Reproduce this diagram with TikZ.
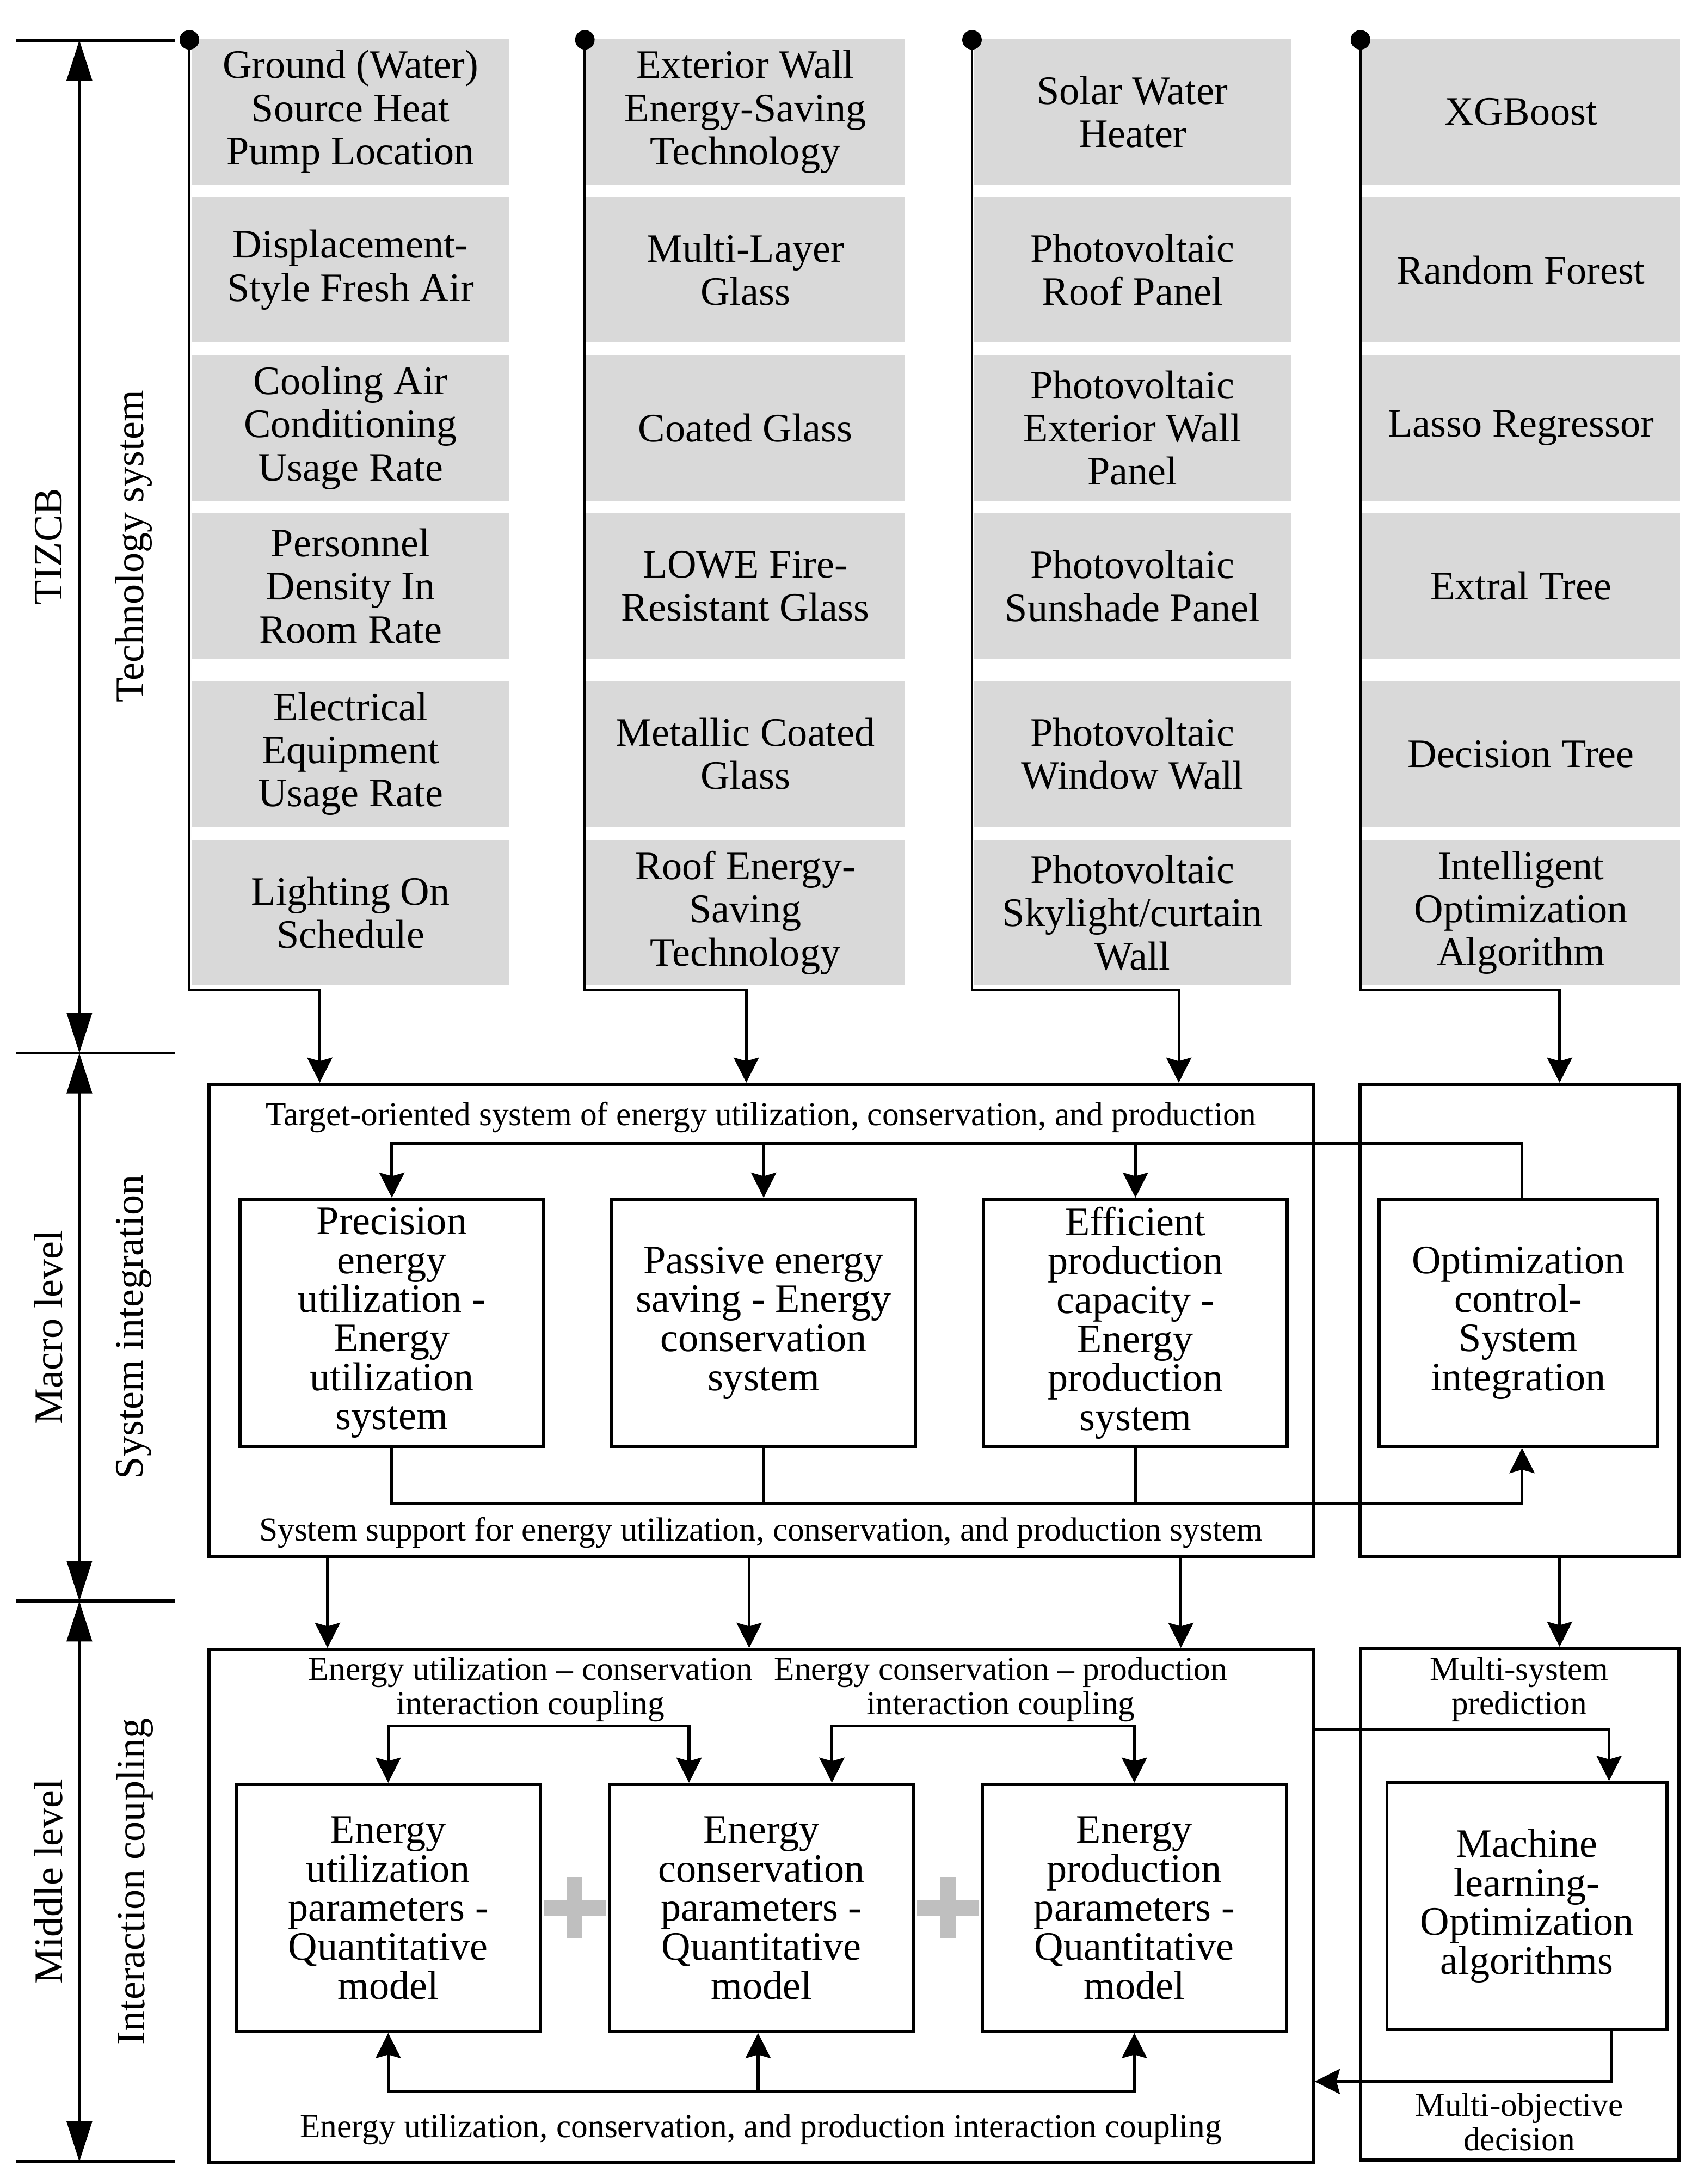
\documentclass[tikz,border=0pt]{standalone}
\usepackage{fontspec}
\setmainfont{Liberation Serif}
\usepackage{tikz}
\usetikzlibrary{calc}
\usetikzlibrary{positioning}
\usetikzlibrary{arrows.meta}
\definecolor{cellgray}{RGB}{217,217,217}
\definecolor{plusgray}{RGB}{191,191,191}

\begin{document}
\begin{tikzpicture}[x=1pt, y=-1pt,
    cell/.style={rectangle, fill=cellgray, minimum width=228.5pt, minimum height=104.5pt, inner sep=0pt, outer sep=0pt, align=center, font=\fontsize{29}{31}\selectfont},
    sysbox/.style={rectangle, draw=black, line width=2.3pt, minimum width=218pt, minimum height=177.5pt, inner sep=0pt, outer sep=0pt, align=center, font=\fontsize{29}{28}\selectfont},
    frame/.style={rectangle, draw=black, line width=2.4pt, inner sep=0pt, outer sep=0pt, anchor=north west},
    note/.style={align=center, inner sep=0pt, font=\fontsize{24}{24.5}\selectfont},
    side/.style={rotate=90, inner sep=0pt, font=\fontsize{29}{31}\selectfont},
    dot/.style={circle, fill=black, inner sep=0pt, minimum size=14pt},
    colline/.style={line width=1.9pt, -{Stealth[length=18pt, width=18pt, inset=2.5pt]}},
    arr/.style={line width=2.1pt, -{Stealth[length=18pt, width=18pt, inset=2.5pt]}},
    dblarr/.style={line width=2.1pt, {Stealth[length=18pt, width=18pt, inset=2.5pt]}-{Stealth[length=18pt, width=18pt, inset=2.5pt]}},
    conn/.style={line width=2.1pt},
    dim/.style={line width=2.2pt, {Triangle[length=29pt, width=18pt]}-{Triangle[length=29pt, width=18pt]}},
    tick/.style={line width=2.2pt}]
    \useasboundingbox (0,0) rectangle (1219,1568);

    \node [cell, anchor=north west] (eq1) at (137.5,28) {Ground (Water)\\Source Heat\\Pump Location};
    \node [cell, below=9pt of eq1] (eq2) {Displacement-\\Style Fresh Air};
    \node [cell, below=9pt of eq2] (eq3) {Cooling Air\\Conditioning\\Usage Rate};
    \node [cell, below=9pt of eq3] (eq4) {Personnel\\Density In\\Room Rate};
    \node [cell, below=16pt of eq4] (eq5) {Electrical\\Equipment\\Usage Rate};
    \node [cell, below=9.5pt of eq5] (eq6) {Lighting On\\Schedule};

    \node [cell, anchor=north west] (env1) at (421,28) {Exterior Wall\\Energy-Saving\\Technology};
    \node [cell, below=9pt of env1] (env2) {Multi-Layer\\Glass};
    \node [cell, below=9pt of env2] (env3) {Coated Glass};
    \node [cell, below=9pt of env3] (env4) {LOWE Fire-\\Resistant Glass};
    \node [cell, below=16pt of env4] (env5) {Metallic Coated\\Glass};
    \node [cell, below=9.5pt of env5] (env6) {Roof Energy-\\Saving\\Technology};

    \node [cell, anchor=north west] (pv1) at (699,28) {Solar Water\\Heater};
    \node [cell, below=9pt of pv1] (pv2) {Photovoltaic\\Roof Panel};
    \node [cell, below=9pt of pv2] (pv3) {Photovoltaic\\Exterior Wall\\Panel};
    \node [cell, below=9pt of pv3] (pv4) {Photovoltaic\\Sunshade Panel};
    \node [cell, below=16pt of pv4] (pv5) {Photovoltaic\\Window Wall};
    \node [cell, below=9.5pt of pv5] (pv6) {Photovoltaic\\Skylight/curtain\\Wall};

    \node [cell, anchor=north west] (alg1) at (978,28) {XGBoost};
    \node [cell, below=9pt of alg1] (alg2) {Random Forest};
    \node [cell, below=9pt of alg2] (alg3) {Lasso Regressor};
    \node [cell, below=9pt of alg3] (alg4) {Extral Tree};
    \node [cell, below=16pt of alg4] (alg5) {Decision Tree};
    \node [cell, below=9.5pt of alg5] (alg6) {Intelligent\\Optimization\\Algorithm};

    \node [dot] (eqdot) at (136,28.6) {};
    \node [dot] (envdot) at (420,28.6) {};
    \node [dot] (pvdot) at (698,28.6) {};
    \node [dot] (algdot) at (977,28.6) {};

    \node [frame, minimum width=793pt, minimum height=339pt] (tsys) at (150,778.5) {};
    \node [frame, minimum width=229pt, minimum height=339pt] (rsys) at (976.5,778.5) {};
    \node [frame, minimum width=793pt, minimum height=368pt] (csys) at (150,1184.3) {};
    \node [frame, minimum width=228.5pt, minimum height=367.5pt] (rcpl) at (977,1183.5) {};

    \node [sysbox, anchor=north west] (util) at (172.4,861) {Precision\\energy\\utilization -\\Energy\\utilization\\system};
    \node [sysbox, right=49pt of util] (cons) {Passive energy\\saving - Energy\\conservation\\system};
    \node [sysbox, right=49pt of cons] (prod) {Efficient\\production\\capacity -\\Energy\\production\\system};
    \node [sysbox, anchor=north west, minimum width=200pt] (opt) at (990.4,861) {Optimization\\control-\\System\\integration};

    \node [sysbox, anchor=north west, minimum width=218.4pt] (uparam) at (169.6,1281) {Energy\\utilization\\parameters -\\Quantitative\\model};
    \node [sysbox, minimum width=218.4pt, right=49.6pt of uparam] (cparam) {Energy\\conservation\\parameters -\\Quantitative\\model};
    \node [sysbox, minimum width=218.4pt, right=49.4pt of cparam] (pparam) {Energy\\production\\parameters -\\Quantitative\\model};
    \node [sysbox, anchor=north west, minimum width=201pt, minimum height=177.3pt] (ml) at (996,1279.7) {Machine\\learning-\\Optimization\\algorithms};

    \node [note] (goal) at (546.5,802) {Target-oriented system of energy utilization, conservation, and production};
    \node [note] (support) at (546.5,1100.5) {System support for energy utilization, conservation, and production system};
    \node [note] (ucpl) at (381,1212.8) {Energy utilization – conservation\\interaction coupling};
    \node [note] (pcpl) at (718.7,1212.8) {Energy conservation – production\\interaction coupling};
    \node [note] (allcpl) at (546.4,1528.8) {Energy utilization, conservation, and production interaction coupling};
    \node [note] (predict) at (1091,1212.8) {Multi-system\\prediction};
    \node [note] (decide) at (1091,1523.4) {Multi-objective\\decision};

    \node [side] (lvtop) at (35,392.4) {TIZCB};
    \node [side] (techsys) at (96,392.4) {Technology system};
    \node [side] (lvmacro) at (35,952.8) {Macro level};
    \node [side] (sysint) at (96,952.8) {System integration};
    \node [side] (lvmid) at (35,1350.8) {Middle level};
    \node [side] (interact) at (97,1350.8) {Interaction coupling};

    \coordinate (lv0) at (57,28.8);
    \coordinate (lv1) at (57,756);
    \coordinate (lv2) at (57,1149.5);
    \coordinate (lv3) at (57,1552);
    \draw [tick] ([xshift=-45.5pt]lv0) -- ([xshift=68.5pt]lv0);
    \draw [tick] ([xshift=-45.5pt]lv1) -- ([xshift=68.5pt]lv1);
    \draw [tick] ([xshift=-45.5pt]lv2) -- ([xshift=68.5pt]lv2);
    \draw [tick] ([xshift=-45.5pt]lv3) -- ([xshift=68.5pt]lv3);
    \draw [dim] (lv0) -- (lv1);
    \draw [dim] (lv1) -- (lv2);
    \draw [dim] (lv2) -- (lv3);

    \coordinate (eqbend) at (229.6,710.5);
    \coordinate (envbend) at (535.9,710.5);
    \coordinate (pvbend) at (846.5,710.5);
    \coordinate (algbend) at (1120,710.5);
    \draw [colline] (eqdot.center) |- (eqbend) -- ([yshift=1.2pt]eqbend |- tsys.north);
    \draw [colline] (envdot.center) |- (envbend) -- ([yshift=1.2pt]envbend |- tsys.north);
    \draw [colline] (pvdot.center) |- (pvbend) -- ([yshift=1.2pt]pvbend |- tsys.north);
    \draw [colline] (algdot.center) |- (algbend) -- ([yshift=1.2pt]algbend |- rsys.north);

    \coordinate (goalbus) at (1093,821);
    \coordinate (supbus) at (1093,1079.5);
    \draw [arr] (goalbus |- opt.north) -- (goalbus) -| ([yshift=1.1pt]util.north);
    \draw [arr] (cons.north |- goalbus) -- ([yshift=1.1pt]cons.north);
    \draw [arr] (prod.north |- goalbus) -- ([yshift=1.1pt]prod.north);
    \draw [arr] (util.south) |- (supbus) -- ([yshift=-1.1pt]supbus |- opt.south);
    \draw [conn] (cons.south) -- (cons.south |- supbus);
    \draw [conn] (prod.south) -- (prod.south |- supbus);

    \draw [arr] ([xshift=85.2pt]tsys.south west) -- ([xshift=85.2pt, yshift=1.2pt]csys.north west);
    \draw [arr] ([xshift=388pt]tsys.south west) -- ([xshift=388pt, yshift=1.2pt]csys.north west);
    \draw [arr] ([xshift=698pt]tsys.south west) -- ([xshift=698pt, yshift=1.2pt]csys.north west);
    \draw [arr] ([xshift=143.5pt]rsys.south west) -- ([xshift=143pt, yshift=1.2pt]rcpl.north west);

    \draw [dblarr] ([yshift=1.1pt]uparam.north) -- ++(0,-40.8) -| ([xshift=57.2pt, yshift=1.1pt]cparam.north west);
    \draw [dblarr] ([xshift=-58.6pt, yshift=1.1pt]cparam.north east) -- ++(0,-40.8) -| ([yshift=1.1pt]pparam.north);
    \coordinate (allbus) at (544.4,1501.3);
    \draw [dblarr] ([yshift=-1.1pt]uparam.south) |- (allbus) -| ([yshift=-1.1pt]pparam.south);
    \draw [arr] (allbus) -- ([yshift=-1.1pt]allbus |- cparam.south);

    \coordinate (predbus) at (1155.5,1241.5);
    \coordinate (decbus) at (1157,1494.4);
    \draw [arr] (predbus -| csys.east) -- (predbus) -- ([yshift=1.1pt]predbus |- ml.north);
    \draw [arr] (decbus |- ml.south) -- (decbus) -- ([xshift=1.2pt]decbus -| csys.east);

    \coordinate (plus1) at ($(uparam.east)!0.5!(cparam.west)$);
    \coordinate (plus2) at ($(cparam.east)!0.5!(pparam.west)$);
    \fill [plusgray] ($(plus1)+(-22,-5.4)$) rectangle ($(plus1)+(22,5.4)$);
    \fill [plusgray] ($(plus1)+(-5.4,-22)$) rectangle ($(plus1)+(5.4,22)$);
    \fill [plusgray] ($(plus2)+(-22,-5.4)$) rectangle ($(plus2)+(22,5.4)$);
    \fill [plusgray] ($(plus2)+(-5.4,-22)$) rectangle ($(plus2)+(5.4,22)$);
\end{tikzpicture}
\end{document}
